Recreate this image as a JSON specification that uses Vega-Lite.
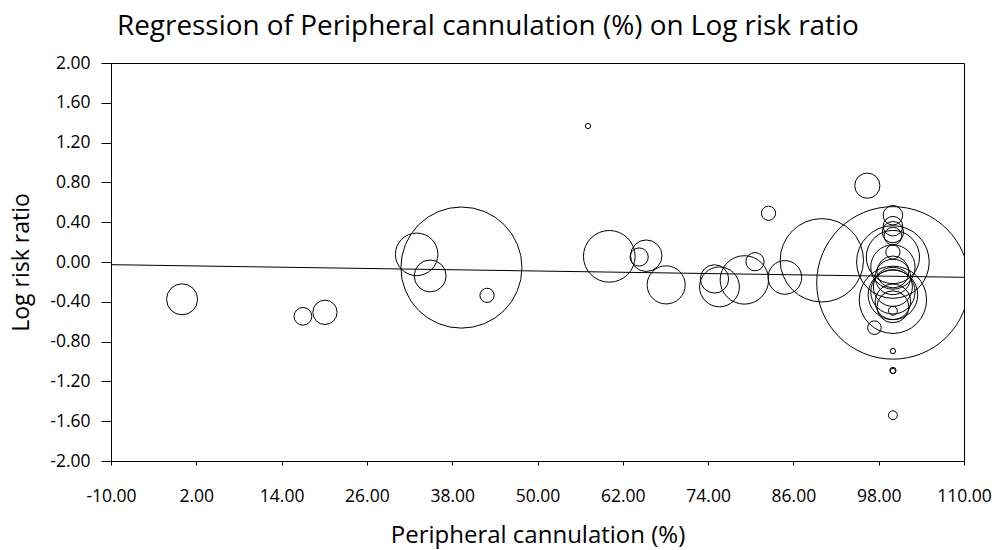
{
  "$schema": "https://vega.github.io/schema/vega-lite/v6.json",
  "autosize": {"type": "none"},
  "width": 853,
  "height": 398,
  "padding": {"left": 111, "top": 63, "right": 34, "bottom": 89},
  "background": "white",
  "config": {
    "view": {"stroke": "#000000", "strokeWidth": 1},
    "font": "Open Sans"
  },
  "title": {
    "text": "Regression of Peripheral cannulation (%) on Log risk ratio",
    "anchor": "start",
    "frame": "group",
    "dx": 6,
    "offset": 13,
    "fontSize": 27.9,
    "fontWeight": "normal",
    "font": "Open Sans",
    "color": "#000000"
  },
  "datasets": {
    "studies": [
      {"pc": 0.0, "lrr": -0.375, "weight": 4.14},
      {"pc": 17.0, "lrr": -0.546, "weight": 1.35},
      {"pc": 20.1, "lrr": -0.506, "weight": 2.54},
      {"pc": 33.0, "lrr": 0.077, "weight": 7.79},
      {"pc": 34.9, "lrr": -0.14, "weight": 4.38},
      {"pc": 39.3, "lrr": -0.056, "weight": 63.1},
      {"pc": 42.9, "lrr": -0.335, "weight": 0.87},
      {"pc": 57.1, "lrr": 1.367, "weight": 0.12},
      {"pc": 60.1, "lrr": 0.057, "weight": 11.5},
      {"pc": 65.3, "lrr": 0.063, "weight": 4.28},
      {"pc": 64.3, "lrr": 0.05, "weight": 1.43},
      {"pc": 68.1, "lrr": -0.23, "weight": 6.25},
      {"pc": 74.9, "lrr": -0.17, "weight": 3.46},
      {"pc": 75.6, "lrr": -0.25, "weight": 6.84},
      {"pc": 79.1, "lrr": -0.18, "weight": 10.1},
      {"pc": 80.6, "lrr": 0.003, "weight": 1.43},
      {"pc": 82.5, "lrr": 0.49, "weight": 0.87},
      {"pc": 84.8, "lrr": -0.155, "weight": 4.88},
      {"pc": 90.0, "lrr": 0.017, "weight": 29.9},
      {"pc": 96.4, "lrr": 0.767, "weight": 2.73},
      {"pc": 100.0, "lrr": -0.21, "weight": 100},
      {"pc": 97.4, "lrr": -0.66, "weight": 0.8},
      {"pc": 100.0, "lrr": -0.895, "weight": 0.12},
      {"pc": 100.0, "lrr": -1.09, "weight": 0.17},
      {"pc": 100.0, "lrr": -1.095, "weight": 0.12},
      {"pc": 100.0, "lrr": -1.54, "weight": 0.34},
      {"pc": 100.0, "lrr": 0.47, "weight": 1.64},
      {"pc": 100.0, "lrr": 0.36, "weight": 1.64},
      {"pc": 100.0, "lrr": 0.3, "weight": 1.95},
      {"pc": 100.0, "lrr": 0.26, "weight": 1.35},
      {"pc": 100.0, "lrr": 0.1, "weight": 0.87},
      {"pc": 100.0, "lrr": 0.05, "weight": 12.2},
      {"pc": 100.0, "lrr": 0.0, "weight": 22.7},
      {"pc": 100.0, "lrr": -0.05, "weight": 8.45},
      {"pc": 100.0, "lrr": -0.1, "weight": 4.38},
      {"pc": 100.0, "lrr": -0.15, "weight": 5.41},
      {"pc": 100.0, "lrr": -0.25, "weight": 6.54},
      {"pc": 100.0, "lrr": -0.3, "weight": 8.45},
      {"pc": 100.0, "lrr": -0.33, "weight": 10.6},
      {"pc": 100.0, "lrr": -0.38, "weight": 19.5},
      {"pc": 100.0, "lrr": -0.4, "weight": 5.41},
      {"pc": 100.0, "lrr": -0.45, "weight": 4.38},
      {"pc": 100.0, "lrr": -0.49, "weight": 0.34}
    ],
    "fit": [
      {"pc": -10, "lrr": -0.027},
      {"pc": 110, "lrr": -0.154}
    ]
  },
  "layer": [
    {
      "data": {"name": "studies"},
      "mark": {"type": "point", "shape": "circle", "filled": false, "stroke": "#000000", "strokeWidth": 1, "opacity": 1, "clip": true},
      "encoding": {
        "x": {
          "field": "pc", "type": "quantitative",
          "scale": {"domain": [-10, 110], "nice": false, "zero": false},
          "axis": {
            "title": "Peripheral cannulation (%)",
            "values": [-10, 2, 14, 26, 38, 50, 62, 74, 86, 98, 110],
            "tickCount": 20,
            "labelExpr": "replace(format(datum.value, '.2f'), '\u2212', '-')",
            "labelOverlap": false,
            "labelFlush": false,
            "grid": false,
            "domainColor": "#000000",
            "tickColor": "#000000",
            "tickSize": 4,
            "labelPadding": 22,
            "labelFontSize": 17.5,
            "labelFont": "Open Sans",
            "labelColor": "#000000",
            "titleFontSize": 24,
            "titleFont": "Open Sans",
            "titleFontWeight": "normal",
            "titleColor": "#000000",
            "titlePadding": 19
          }
        },
        "y": {
          "field": "lrr", "type": "quantitative",
          "scale": {"domain": [-2, 2], "nice": false, "zero": false},
          "axis": {
            "title": "Log risk ratio",
            "values": [-2, -1.6, -1.2, -0.8, -0.4, 0, 0.4, 0.8, 1.2, 1.6, 2],
            "tickCount": 20,
            "labelExpr": "replace(format(datum.value, '.2f'), '\u2212', '-')",
            "labelOverlap": false,
            "labelFlush": false,
            "grid": false,
            "domainColor": "#000000",
            "tickColor": "#000000",
            "tickSize": 10,
            "labelPadding": 11,
            "labelFontSize": 17.5,
            "labelFont": "Open Sans",
            "labelColor": "#000000",
            "titleFontSize": 23,
            "titleFont": "Open Sans",
            "titleFontWeight": "normal",
            "titleColor": "#000000",
            "titlePadding": 16
          }
        },
        "size": {
          "field": "weight", "type": "quantitative",
          "scale": {"domain": [0, 100], "range": [0, 23235], "zero": true},
          "legend": null
        }
      }
    },
    {
      "data": {"name": "fit"},
      "mark": {"type": "line", "color": "#000000", "strokeWidth": 1},
      "encoding": {
        "x": {"field": "pc", "type": "quantitative"},
        "y": {"field": "lrr", "type": "quantitative"}
      }
    }
  ]
}
